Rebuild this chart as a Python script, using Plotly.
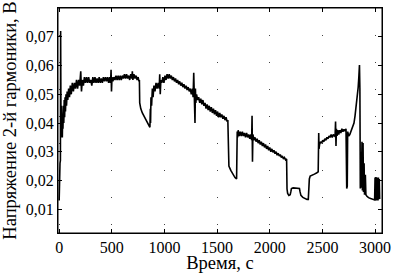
import plotly.graph_objects as go

# Time, s
t = [0, 2, 4, 8, 12, 14, 16, 18, 21, 24, 27, 30, 33, 36, 40, 44, 48, 52, 56, 60,
     65, 70, 76, 82, 90, 98, 106, 115, 125, 135, 145, 155, 165, 175, 185, 195, 205, 212, 220, 230,
     240, 250, 260, 270, 280, 290, 300, 310, 320, 330, 340, 350, 360, 370, 380, 390, 400, 410, 420, 430,
     440, 450, 460, 470, 480, 488, 493, 497, 502, 510, 520, 530, 540, 550, 560, 570, 580, 590, 600, 610,
     620, 630, 640, 650, 660, 670, 680, 690, 695, 700, 710, 720, 730, 740, 750, 758, 762, 765, 775, 790,
     810, 830, 850, 862, 866, 868, 872, 878, 885, 892, 900, 910, 920, 930, 940, 950, 955, 960, 966, 975,
     985, 995, 1005, 1015, 1025, 1035, 1045, 1055, 1065, 1075, 1085, 1095, 1105, 1115, 1125, 1135, 1145, 1155, 1165, 1175,
     1185, 1195, 1205, 1215, 1225, 1235, 1245, 1255, 1265, 1272, 1278, 1282, 1286, 1290, 1294, 1298, 1305, 1315, 1325, 1335,
     1345, 1355, 1365, 1375, 1385, 1395, 1405, 1415, 1425, 1435, 1445, 1455, 1465, 1475, 1485, 1495, 1505, 1515, 1525, 1535,
     1545, 1555, 1565, 1575, 1585, 1595, 1602, 1606, 1612, 1630, 1650, 1670, 1685, 1688, 1691, 1695, 1700, 1710, 1720, 1730,
     1740, 1750, 1760, 1770, 1780, 1790, 1800, 1810, 1820, 1828, 1832, 1836, 1840, 1850, 1860, 1870, 1880, 1890, 1900, 1910,
     1920, 1930, 1940, 1950, 1960, 1970, 1980, 1990, 2000, 2010, 2020, 2030, 2040, 2050, 2060, 2070, 2080, 2090, 2100, 2110,
     2120, 2130, 2140, 2150, 2160, 2164, 2170, 2182, 2194, 2200, 2206, 2222, 2242, 2262, 2282, 2288, 2296, 2314, 2334, 2354,
     2366, 2370, 2376, 2384, 2404, 2424, 2444, 2460, 2465, 2468, 2473, 2483, 2493, 2503, 2513, 2523, 2533, 2543, 2553, 2563,
     2573, 2583, 2593, 2603, 2613, 2621, 2625, 2629, 2633, 2639, 2647, 2655, 2665, 2675, 2685, 2695, 2705, 2715, 2724, 2731,
     2736, 2740, 2750, 2760, 2770, 2780, 2790, 2800, 2810, 2818, 2826, 2834, 2840, 2846, 2852, 2856, 2860, 2866, 2870, 2876,
     2880, 2886, 2890, 2896, 2900, 2908, 2913, 2923, 2938, 2958, 2978, 2996, 3000, 3004, 3008, 3012, 3016, 3020, 3024, 3028,
     3032, 3036, 3040, 3044]

# Voltage of the 2nd harmonic, V
v = [0.013, 0.021, 0.026, 0.026, 0.027, 0.072, 0.058, 0.035, 0.046, 0.036, 0.044, 0.035, 0.042, 0.038, 0.046, 0.040, 0.048, 0.042, 0.049, 0.044,
     0.050, 0.046, 0.051, 0.048, 0.052, 0.049, 0.053, 0.050, 0.054, 0.051, 0.054, 0.052, 0.055, 0.052, 0.055, 0.053, 0.058, 0.051, 0.055, 0.053,
     0.056, 0.054, 0.056, 0.054, 0.056, 0.054, 0.055, 0.053, 0.056, 0.054, 0.056, 0.054, 0.0555, 0.054, 0.056, 0.054, 0.0555, 0.054, 0.056, 0.0545,
     0.056, 0.0545, 0.056, 0.054, 0.056, 0.054, 0.0585, 0.051, 0.056, 0.0545, 0.056, 0.055, 0.0565, 0.055, 0.0565, 0.055, 0.0565, 0.055, 0.0565, 0.0555,
     0.057, 0.0555, 0.057, 0.0555, 0.0565, 0.055, 0.057, 0.0555, 0.058, 0.055, 0.057, 0.0555, 0.0565, 0.055, 0.056, 0.0545, 0.055, 0.047, 0.045, 0.0435,
     0.042, 0.041, 0.0395, 0.0385, 0.045, 0.040, 0.049, 0.046, 0.052, 0.049, 0.053, 0.051, 0.054, 0.052, 0.054, 0.052, 0.057, 0.050, 0.055, 0.054,
     0.056, 0.054, 0.0565, 0.055, 0.057, 0.0555, 0.057, 0.0555, 0.0565, 0.055, 0.056, 0.0545, 0.0555, 0.054, 0.055, 0.0535, 0.0545, 0.053, 0.054, 0.0525,
     0.0535, 0.052, 0.053, 0.0515, 0.0525, 0.051, 0.052, 0.050, 0.052, 0.049, 0.0575, 0.046, 0.055, 0.040, 0.052, 0.047, 0.050, 0.048, 0.049, 0.047,
     0.0485, 0.0465, 0.048, 0.046, 0.047, 0.045, 0.0465, 0.0445, 0.046, 0.044, 0.0455, 0.0435, 0.045, 0.043, 0.0445, 0.0425, 0.044, 0.042, 0.0435, 0.042,
     0.043, 0.0415, 0.0425, 0.041, 0.042, 0.0405, 0.041, 0.027, 0.025, 0.0235, 0.022, 0.021, 0.0205, 0.035, 0.037, 0.035, 0.0375, 0.0355, 0.037, 0.0355,
     0.037, 0.0355, 0.0365, 0.035, 0.0365, 0.035, 0.036, 0.0345, 0.036, 0.034, 0.0425, 0.0265, 0.036, 0.034, 0.035, 0.0335, 0.0345, 0.033, 0.034, 0.0325,
     0.0335, 0.032, 0.033, 0.0315, 0.0325, 0.031, 0.032, 0.0305, 0.0315, 0.030, 0.031, 0.0298, 0.0305, 0.0293, 0.030, 0.0288, 0.0295, 0.0285, 0.029, 0.028,
     0.0285, 0.0275, 0.028, 0.0272, 0.0275, 0.017, 0.0155, 0.0148, 0.015, 0.016, 0.0172, 0.0174, 0.0173, 0.0174, 0.0172, 0.016, 0.0148, 0.0141, 0.0137, 0.0134,
     0.0134, 0.019, 0.0205, 0.0215, 0.022, 0.0222, 0.0226, 0.023, 0.0365, 0.031, 0.0325, 0.0335, 0.033, 0.034, 0.0335, 0.0345, 0.034, 0.035, 0.0345, 0.0355,
     0.035, 0.036, 0.035, 0.036, 0.0355, 0.036, 0.0405, 0.032, 0.038, 0.0355, 0.0375, 0.036, 0.0375, 0.0365, 0.038, 0.037, 0.0378, 0.0372, 0.038, 0.0172,
     0.018, 0.037, 0.0355, 0.036, 0.037, 0.0375, 0.0385, 0.040, 0.0425, 0.045, 0.047, 0.050, 0.0525, 0.056, 0.0602, 0.052, 0.0172, 0.030, 0.0175, 0.0335,
     0.0165, 0.033, 0.016, 0.026, 0.015, 0.022, 0.015, 0.0145, 0.014, 0.0137, 0.0134, 0.0132, 0.021, 0.013, 0.0212, 0.013, 0.021, 0.013, 0.021, 0.013,
     0.021, 0.0135, 0.0205, 0.0135]

x_tickvals = [0, 500, 1000, 1500, 2000, 2500, 3000]
x_ticktext = ["0", "500", "1000", "1500", "2000", "2500", "3000"]
y_tickvals = [0.01, 0.02, 0.03, 0.04, 0.05, 0.06, 0.07, 0.08]
y_ticktext = ["0,01", "0,02", "0,03", "0,04", "0,05", "0,06", "0,07", "0,08"]

FONT = "Liberation Serif"

fig = go.Figure(go.Scatter(x=t, y=v, mode="lines",
                           line=dict(color="black", width=1.6),
                           showlegend=False, hoverinfo="skip"))

fig.update_layout(
    width=396, height=273,
    margin=dict(l=58, r=14, t=8, b=40, autoexpand=False),
    paper_bgcolor="white", plot_bgcolor="white",
    font=dict(family=FONT, size=16, color="black"),
    shapes=[dict(type="rect", xref="paper", yref="paper", x0=0, x1=1, y0=0, y1=1,
                 line=dict(color="black", width=1), layer="above")],
)
fig.update_xaxes(
    range=[-11, 3066], tickvals=x_tickvals, ticktext=x_ticktext,
    showline=True, linecolor="black", linewidth=1, mirror="ticks",
    ticks="inside", ticklen=4, tickcolor="black",
    showgrid=True, gridcolor="#444", gridwidth=1, griddash="1px,26px",
    zeroline=False, automargin=False,
    title=dict(text="Время, с", font=dict(family=FONT, size=18.5), standoff=5),
    tickfont=dict(family=FONT, size=16),
)
fig.update_yaxes(
    range=[0.0017, 0.08005], tickvals=y_tickvals, ticktext=y_ticktext,
    showline=True, linecolor="black", linewidth=1, mirror="ticks",
    ticks="inside", ticklen=4, tickcolor="black",
    showgrid=False, zeroline=False, automargin=False,
    title=dict(text="Напряжение 2-й гармоники, В", font=dict(family=FONT, size=18.5), standoff=4),
    tickfont=dict(family=FONT, size=16),
)

fig.write_html("out.html", config={"displayModeBar": False},
               post_script="document.body.style.margin='0';")
